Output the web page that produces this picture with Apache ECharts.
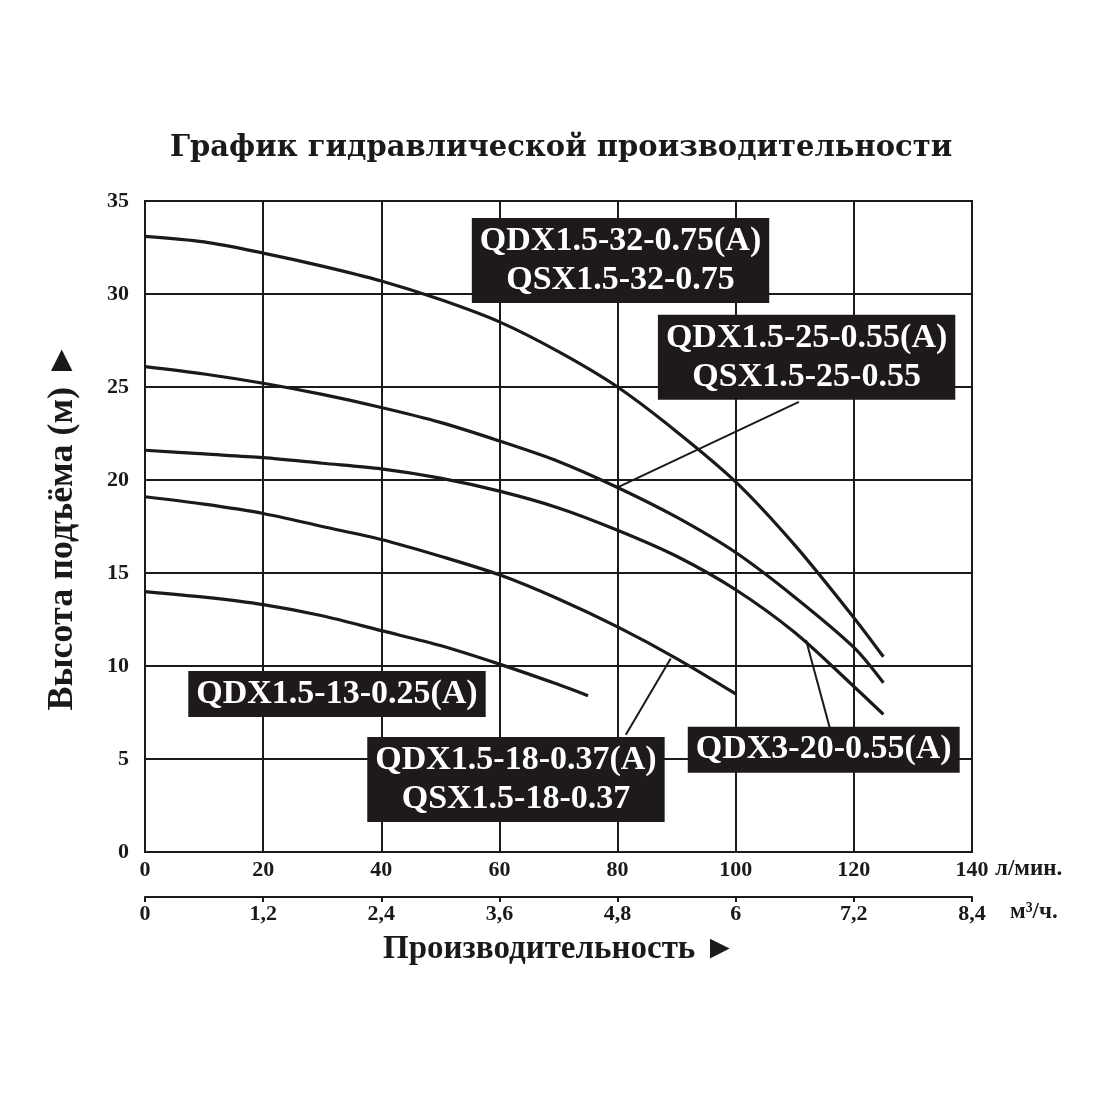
<!DOCTYPE html>
<html>
<head>
<meta charset="utf-8">
<script src="https://cdn.jsdelivr.net/npm/echarts@6/dist/echarts.min.js"></script>
<style>
	html, body { margin: 0; padding: 0; background: #fff; }
	#chart { width: 1100px; height: 1100px; }
</style>
</head>
<body>
<div id="chart"></div>
<script>
	'use strict'

	// flow, l/min -> head, m
	var flowQ32 = [0, 10, 20, 30, 40, 50, 60, 70, 80, 90, 100, 110, 120, 125];
	var headQ32 = [33.1, 32.8, 32.2, 31.5, 30.7, 29.7, 28.5, 26.9, 25.0, 22.6, 19.9, 16.5, 12.6, 10.5];

	var flowQ25 = [0, 10, 20, 30, 40, 50, 60, 70, 80, 90, 100, 110, 120, 125];
	var headQ25 = [26.1, 25.7, 25.2, 24.6, 23.9, 23.1, 22.1, 21.0, 19.6, 18.0, 16.1, 13.7, 11.0, 9.1];

	var flowQ20 = [0, 10, 20, 30, 40, 50, 60, 70, 80, 90, 100, 110, 120, 125];
	var headQ20 = [21.6, 21.4, 21.2, 20.9, 20.6, 20.1, 19.4, 18.5, 17.3, 15.9, 14.1, 11.8, 8.9, 7.4];

	var flowQ18 = [0, 10, 20, 30, 40, 50, 60, 70, 80, 90, 100];
	var headQ18 = [19.1, 18.7, 18.2, 17.5, 16.8, 15.9, 14.9, 13.6, 12.1, 10.4, 8.5];

	var flowQ13 = [0, 10, 20, 30, 40, 50, 60, 70, 75];
	var headQ13 = [14.0, 13.7, 13.3, 12.7, 11.9, 11.1, 10.1, 9.0, 8.4];

	var yTicks = [0, 35, 5];
	var flowTicks = [0, 140, 20];
	var m3Ticks = [0, 8.4, 1.2];

	// model labels: [flow, head, text]
	var boxLabels = [
		[80.5, 31.8, 'QDX1.5-32-0.75(A)\nQSX1.5-32-0.75'],
		[112, 26.6, 'QDX1.5-25-0.55(A)\nQSX1.5-25-0.55'],
		[32.5, 8.5, 'QDX1.5-13-0.25(A)'],
		[62.8, 3.9, 'QDX1.5-18-0.37(A)\nQSX1.5-18-0.37'],
		[114.9, 5.5, 'QDX3-20-0.55(A)']
	];
	// leader lines: from label to curve
	var leaders = [
		[[110.7, 24.2], [80, 19.6]],
		[[81.4, 6.3], [89.0, 10.4]],
		[[115.9, 6.7], [111.9, 11.4]]
	];

	function pairs(xs, ys) {
		return xs.map(function(x, i) { return [x, ys[i]]; });
	}

	var font = "'Liberation Serif', 'DejaVu Serif', serif";
	var ink = '#1a1a1a';

	function curve(name, xs, ys) {
		return {
			name: name,
			type: 'line',
			data: pairs(xs, ys),
			smooth: 0.3,
			showSymbol: false,
			lineStyle: { color: ink, width: 3.2 },
			z: 3
		};
	}

	var chart = echarts.init(document.getElementById('chart'));
	var option = {
		backgroundColor: '#fff',
		animation: false,
		title: {
			text: 'График гидравлической производительности',
			left: 170,
			top: 134,
			padding: 0,
			textStyle: { fontFamily: "'DejaVu Serif', serif", fontWeight: 'bold', fontSize: 29, color: ink }
		},
		grid: {
			left: 145,
			right: 128,
			top: 201,
			bottom: 248,
			show: true,
			borderColor: ink,
			borderWidth: 2
		},
		xAxis: [{
			type: 'value',
			min: flowTicks[0],
			max: flowTicks[1],
			interval: flowTicks[2],
			position: 'bottom',
			axisLine: { lineStyle: { color: ink, width: 2 } },
			axisTick: { show: false },
			splitLine: { lineStyle: { color: ink, width: 2 } },
			axisLabel: { fontFamily: font, fontWeight: 'bold', fontSize: 22, color: ink, margin: 7 }
		}, {
			type: 'value',
			min: m3Ticks[0],
			max: m3Ticks[1],
			interval: m3Ticks[2],
			position: 'bottom',
			offset: 45,
			axisLine: { show: true, lineStyle: { color: ink, width: 2 } },
			axisTick: { show: true, length: 5, lineStyle: { color: ink, width: 2 } },
			splitLine: { show: false },
			axisLabel: {
				fontFamily: font, fontWeight: 'bold', fontSize: 22, color: ink, margin: 6,
				formatter: function(v) { return String(+v.toFixed(1)).replace('.', ','); }
			}
		}],
		yAxis: {
			type: 'value',
			min: yTicks[0],
			max: yTicks[1],
			interval: yTicks[2],
			name: 'Высота подъёма (м) ►',
			nameLocation: 'middle',
			nameRotate: 90,
			nameGap: 64,
			nameTextStyle: { fontFamily: font, fontWeight: 'bold', fontSize: 36, color: ink },
			axisLine: { show: true, lineStyle: { color: ink, width: 2 } },
			axisTick: { show: false },
			splitLine: { lineStyle: { color: ink, width: 2 } },
			axisLabel: { fontFamily: font, fontWeight: 'bold', fontSize: 22, color: ink, margin: 16 }
		},
		graphic: [{
			type: 'text',
			left: 995,
			top: 858,
			style: { text: 'л/мин.', font: 'bold 23px ' + font, fill: ink }
		}, {
			type: 'text',
			left: 1010,
			top: 901,
			style: { text: 'м³/ч.', font: 'bold 23px ' + font, fill: ink }
		}, {
			type: 'text',
			left: 383,
			top: 933,
			style: { text: 'Производительность ►', font: 'bold 33px ' + font, fill: ink }
		}],
		series: [
			curve('QDX1.5-32-0.75(A)', flowQ32, headQ32),
			curve('QDX1.5-25-0.55(A)', flowQ25, headQ25),
			curve('QDX3-20-0.55(A)', flowQ20, headQ20),
			curve('QDX1.5-18-0.37(A)', flowQ18, headQ18),
			curve('QDX1.5-13-0.25(A)', flowQ13, headQ13),
			{
				type: 'lines',
				coordinateSystem: 'cartesian2d',
				data: leaders.map(function(l) { return { coords: l }; }),
				lineStyle: { color: ink, width: 2, opacity: 1 },
				z: 4
			},
			{
				type: 'scatter',
				data: boxLabels,
				symbolSize: 0,
				itemStyle: { opacity: 1 },
				z: 5,
				label: {
					show: true,
					position: 'inside',
					formatter: function(p) { return p.value[2]; },
					fontFamily: font,
					fontWeight: 'bold',
					fontSize: 34,
					lineHeight: 39,
					color: '#fff',
					opacity: 1,
					align: 'center',
					backgroundColor: '#1e1a1a',
					padding: [4, 8, 3, 8]
				}
			}
		]
	};
	chart.setOption(option);
</script>
</body>
</html>
